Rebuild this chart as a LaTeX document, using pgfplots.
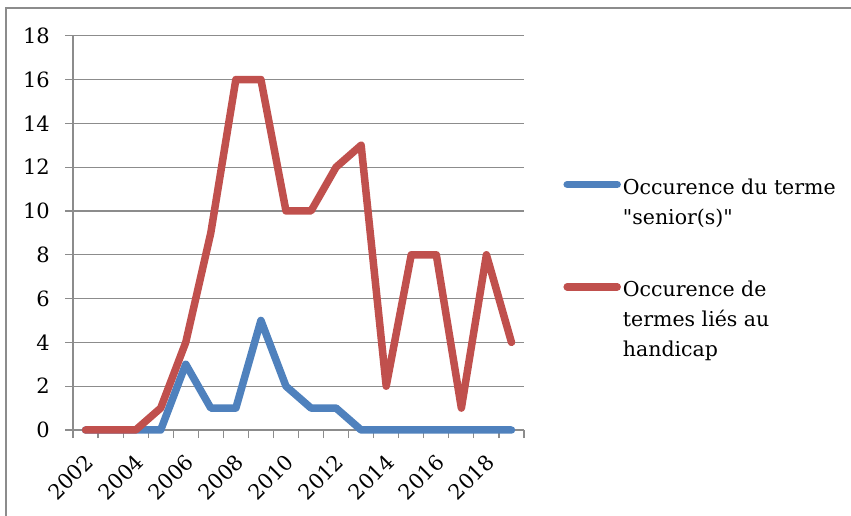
\documentclass[border=0pt]{standalone}
\usepackage{fontspec}
\setmainfont{DejaVu Serif}[Ligatures=TeXOff]
\usepackage{pgfplots}
\pgfplotsset{compat=1.18}
\definecolor{seniorblue}{HTML}{4F81BD}
\definecolor{handired}{HTML}{C0504D}
\definecolor{gridgray}{HTML}{8C8C8C}

\begin{document}
\begin{tikzpicture}
\path[use as bounding box] (0bp,0bp) rectangle (851bp,516bp);
\draw[gridgray, line width=1.2bp] (6bp,0bp) -- (6bp,508bp) -- (851bp,508bp);
\begin{axis}[
  at={(73bp,86bp)}, anchor=south west,
  scale only axis, width=451bp, height=394.3bp,
  xmin=2001.5, xmax=2019.5, ymin=0, ymax=18,
  clip=false,
  axis lines*=left,
  axis line style={draw=gridgray, line width=1.2bp, -},
  ytick={0,2,...,18},
  xtick={2002,2004,...,2018},
  minor xtick={2001.5,2002.5,...,2019.5},
  xtick style={draw=none},
  minor x tick style={draw=gridgray, line width=1.2bp},
  ytick style={draw=gridgray, line width=1.2bp},
  tick align=outside,
  major tick length=8bp, minor tick length=8bp,
  ymajorgrids,
  major grid style={gridgray, line width=1.2bp},
  /pgf/number format/assume math mode=true,
  /pgf/number format/1000 sep={},
  tick label style={font=\fontsize{21bp}{24bp}\selectfont},
  yticklabel style={anchor=east, inner sep=0pt, xshift=-15bp},
  xticklabel style={anchor=east, inner sep=0pt, xshift=4bp, yshift=-20bp, rotate=45},
  legend style={at={(1.087,0.657)}, anchor=north west, draw=none, fill=none,
    inner sep=0pt, row sep=76bp,
    font=\fontsize{20.5bp}{30bp}\selectfont},
  legend cell align=left,
  legend image code/.code={\draw[#1, line cap=round] (3.5bp,0bp) -- (53.5bp,0bp);},
  every axis plot/.append style={line width=7.5bp, line join=round, line cap=round},
]
\addplot[seniorblue] coordinates {
  (2002,0) (2003,0) (2004,0) (2005,0) (2006,3) (2007,1) (2008,1) (2009,5)
  (2010,2) (2011,1) (2012,1) (2013,0) (2014,0) (2015,0) (2016,0) (2017,0)
  (2018,0) (2019,0)};
\addlegendentry{\begin{tabular}[t]{@{}l@{}}Occurence du terme\\"senior(s)"\end{tabular}}
\addplot[handired] coordinates {
  (2002,0) (2003,0) (2004,0) (2005,1) (2006,4) (2007,9) (2008,16) (2009,16)
  (2010,10) (2011,10) (2012,12) (2013,13) (2014,2) (2015,8) (2016,8) (2017,1)
  (2018,8) (2019,4)};
\addlegendentry{\begin{tabular}[t]{@{}l@{}}Occurence de\\termes liés au\\handicap\end{tabular}}
\end{axis}
\end{tikzpicture}
\end{document}
